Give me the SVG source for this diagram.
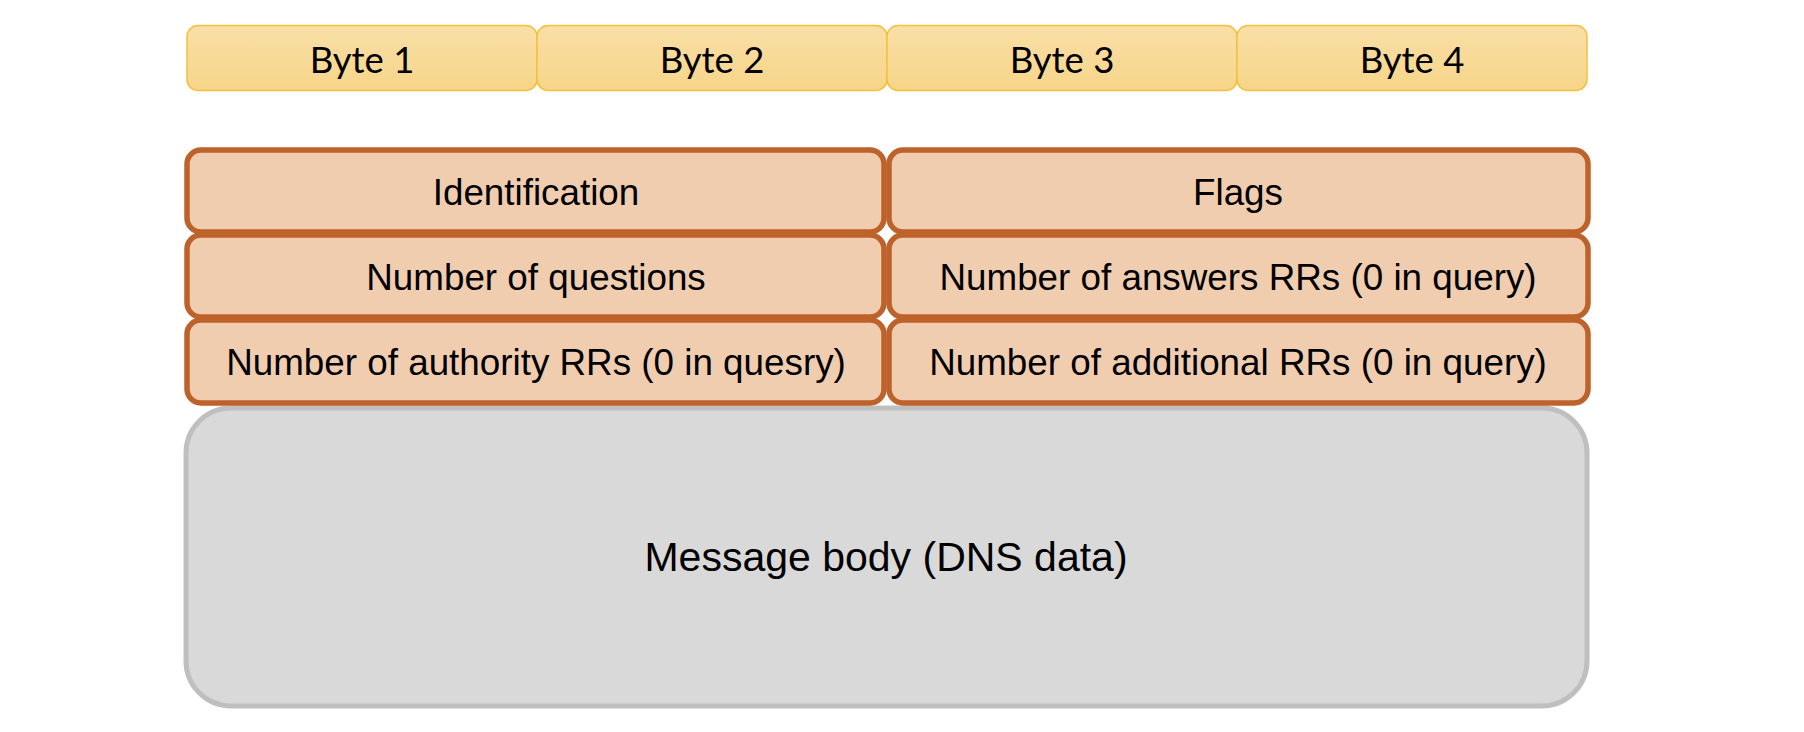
<svg xmlns="http://www.w3.org/2000/svg" width="1804" height="732" viewBox="0 0 1804 732">
  <defs>
    <linearGradient id="byteFill" x1="0" y1="0" x2="0" y2="1">
      <stop offset="0" stop-color="#f9dfa7"/>
      <stop offset="1" stop-color="#f7d589"/>
    </linearGradient>
    <style>
      .byte rect { fill: url(#byteFill); stroke: #f3c13f; stroke-width: 1.5; }
      .byte text { font-family: Lato, "Open Sans", sans-serif; font-size: 36.5px; fill: #000; text-anchor: middle; }
      .field rect { fill: #f1cdb0; stroke: #bd622b; stroke-width: 5.5; }
      .field text { font-family: "Liberation Sans", Arial, sans-serif; font-size: 36.8px; fill: #000; text-anchor: middle; }
      .body rect { fill: #d9d9d9; stroke: #bfbfbf; stroke-width: 5; }
      .body text { font-family: "Liberation Sans", Arial, sans-serif; font-size: 41px; fill: #000; text-anchor: middle; }
    </style>
  </defs>

  <!-- byte ruler -->
  <g id="byte1" class="byte"><rect x="187" y="25.5" width="350" height="65" rx="11"/><text x="362" y="73">Byte 1</text></g>
  <g id="byte2" class="byte"><rect x="537" y="25.5" width="350" height="65" rx="11"/><text x="712" y="73">Byte 2</text></g>
  <g id="byte3" class="byte"><rect x="887" y="25.5" width="350" height="65" rx="11"/><text x="1062" y="73">Byte 3</text></g>
  <g id="byte4" class="byte"><rect x="1237" y="25.5" width="350" height="65" rx="11"/><text x="1412" y="73">Byte 4</text></g>

  <!-- message body (drawn under the header fields) -->
  <g id="message-body" class="body">
    <rect x="186" y="408" width="1401" height="298" rx="45"/>
    <text x="886" y="571">Message body (DNS data)</text>
  </g>

  <!-- DNS header fields -->
  <g id="identification" class="field"><rect x="187" y="150" width="697" height="82" rx="14"/><text x="536" y="205">Identification</text></g>
  <g id="flags" class="field"><rect x="889" y="150" width="699" height="82" rx="14"/><text x="1238" y="205">Flags</text></g>
  <g id="questions" class="field"><rect x="187" y="235" width="697" height="82" rx="14"/><text x="536" y="290">Number of questions</text></g>
  <g id="answers" class="field"><rect x="889" y="235" width="699" height="82" rx="14"/><text x="1238" y="290">Number of answers RRs (0 in query)</text></g>
  <g id="authority" class="field"><rect x="187" y="320" width="697" height="83" rx="14"/><text x="536" y="375">Number of authority RRs (0 in quesry)</text></g>
  <g id="additional" class="field"><rect x="889" y="320" width="699" height="83" rx="14"/><text x="1238" y="375">Number of additional RRs (0 in query)</text></g>

  <!-- no connectors in this layout -->
  <g id="connectors"/>
</svg>
